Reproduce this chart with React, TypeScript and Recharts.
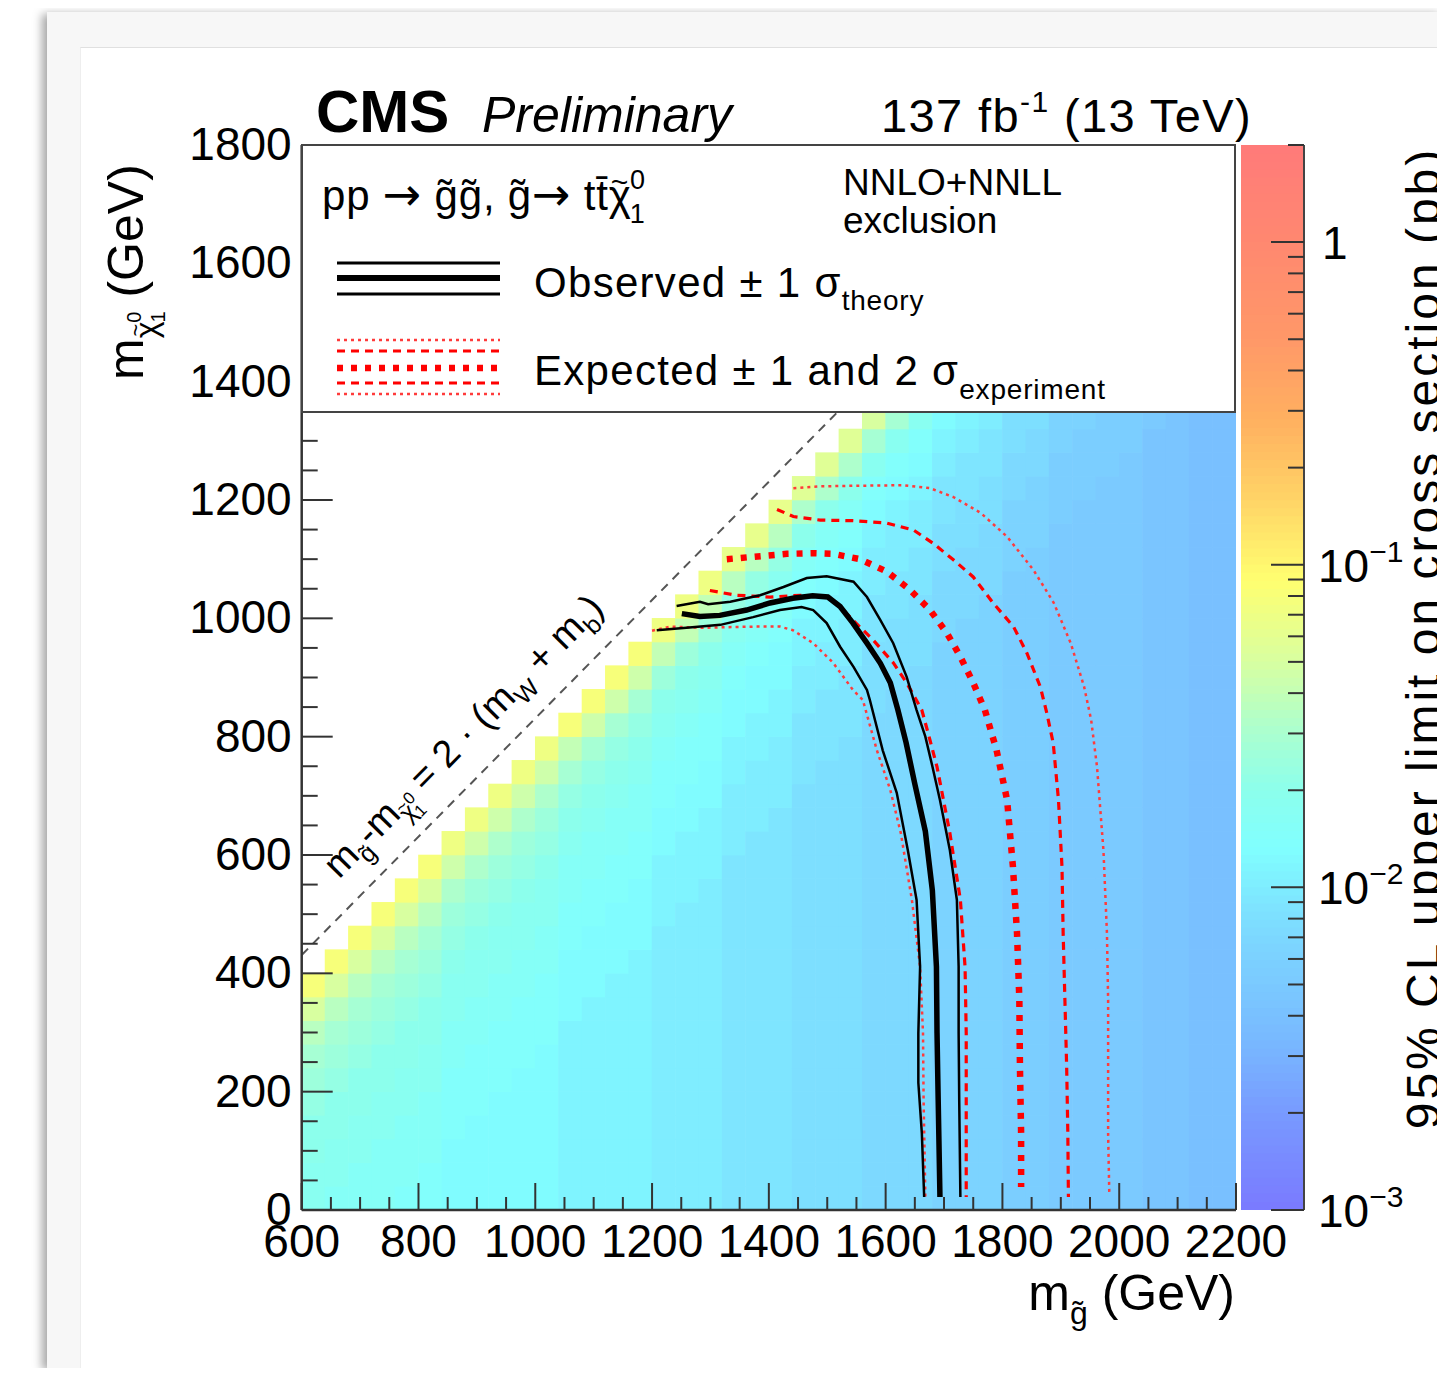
import React from 'react';
import { ComposedChart, Scatter, Line, XAxis, YAxis, ReferenceArea } from 'recharts';

const FONT = '"Liberation Sans", Arial, Helvetica, sans-serif';
const ARROW_FONT = '"DejaVu Sans", sans-serif';

// ---------------- axes / labels ----------------
const X_DOMAIN: [number, number] = [600, 2200];
const Y_DOMAIN: [number, number] = [0, 1800];
const X_MAJOR = [600, 800, 1000, 1200, 1400, 1600, 1800, 2000, 2200];
const Y_MAJOR = [0, 200, 400, 600, 800, 1000, 1200, 1400, 1600, 1800];
const MINOR_STEP = 50;
const CB_DOMAIN: [number, number] = [0.001, 2];
const CB_DECADES = [0.001, 0.01, 0.1, 1];
const CB_LABEL_EXP: Record<string, string> = { '0.001': '\u22123', '0.01': '\u22122', '0.1': '\u22121', '1': '' };

// ---------------- heat map (95% CL upper limit, pb) ----------------
// cells are 40 GeV x 40 GeV; row j covers m_chi in [40j, 40j+40]
// each character is a level: log10(sigma) = -2.6 + 0.05 * index
const BIN = 40;
const LEVELS = '0123456789abcdefghijklmnopqrstuvwxyz';
const LEVEL_LOG0 = -2.6;
const LEVEL_STEP = 0.05;
const HEAT_ROWS = [
  'hgggffeeeeeddddcccbbbaaa9998887766665544',
  'hhgggfeeeeeddddcccbbbaaa9998887766665544',
  'ihhgggeeeeeddddcccbbbaaa9998887766665544',
  'iihhggfeeeeddddcccbbbaaa9998887766665544',
  'jiihhgffeeeddddcccbbbaaa9998887766665544',
  'kjiihhfffeeddddcccbbbaaa9998887766665544',
  'lkjiihgfffeddddcccbbbaaa9998887766665544',
  'nlkjiiggfffddddcccbbbaaa9998887766665544',
  'qnlkjihggffedddcccbbbaaa9998887766665544',
  'uqnlkjhhggfeeddcccbbbaaa9998887766665544',
  'uqnlkihhggeeedcccbbbaaa9998887766665544',
  'uqnljihhgfeeecccbbbaaa9998887766665544',
  'uqnkjihhffeedccbbbaaa9998887766665544',
  'uqmkjihgffeddcbbbaaa9998887766665544',
  'upmkjiggffdddbbbaaa9998887766665544',
  'tpmkjhggfeddcbbaaa9998887766665544',
  'tpmkihggeedccbaaa9998887766665544',
  'tpmjihgfeecccaaa9998887766665544',
  'tpljihffedccbaa9998887766665544',
  'toljigffddcbba9998887766665544',
  'upljhgfeddbbb9998887766665544',
  'uplihgeedcbba998887766665544',
  'upkihfeeccbaa98887766665544',
  'uokigfedccaaa8887766665544',
  'tokhgfddcbaa9887766665544',
  'tojhgeddbba9987766665544',
  'tnjhfedcbb9997766665544',
  'snjgfeccba998766665544',
  'snigfdccaa98866665544',
  'smigedcbaa8876665544',
  'rmifedbba9877665544',
  'rmhfecbb9977765544',
  'rlhfdcba987775544',
  'qlhedcaa88776544',
];

// ---------------- exclusion contours (m_gluino, m_chi) ----------------
const OBS = [[1251,1008],[1282,1003],[1316,1005],[1362,1014],[1402,1026],[1441,1034],[1475,1038],[1501,1036],[1522,1020],[1544,992],[1568,958],[1591,924],[1608,891],[1621,845],[1635,790],[1650,720],[1668,640],[1680,540],[1687,411],[1688,299],[1690,186],[1693,22]];
const OBS_UP = [[1242,1021],[1282,1028],[1296,1024],[1334,1028],[1385,1039],[1425,1053],[1465,1068],[1499,1071],[1545,1062],[1568,1036],[1591,997],[1613,958],[1636,901],[1653,845],[1668,800],[1680,750],[1693,693],[1710,608],[1722,524],[1725,411],[1725,299],[1726,186],[1728,22]];
const OBS_DN = [[1208,980],[1259,984],[1317,989],[1373,1002],[1419,1014],[1456,1019],[1476,1014],[1499,992],[1522,952],[1545,918],[1568,879],[1573,862],[1595,777],[1619,705],[1638,608],[1653,524],[1659,411],[1656,299],[1656,215],[1662,130],[1666,22]];
const EXP = [[1328,1100],[1373,1104],[1431,1109],[1476,1110],[1510,1109],[1556,1100],[1602,1079],[1642,1048],[1676,1014],[1705,975],[1728,935],[1750,891],[1770,845],[1790,777],[1808,693],[1818,580],[1825,468],[1829,355],[1830,242],[1832,130],[1832,39]];
const EXP_UP = [[1414,1184],[1442,1172],[1488,1166],[1544,1165],[1602,1161],[1648,1149],[1681,1127],[1716,1099],[1750,1070],[1784,1026],[1819,986],[1842,941],[1865,884],[1876,840],[1887,789],[1896,693],[1902,580],[1904,468],[1907,355],[1910,242],[1912,130],[1913,22]];
const EXP_DN = [[1299,1047],[1345,1039],[1402,1036],[1454,1039],[1499,1036],[1522,1020],[1544,997],[1579,963],[1613,925],[1636,891],[1662,845],[1676,794],[1688,749],[1710,637],[1728,524],[1736,411],[1738,299],[1738,186],[1738,22]];
const EXP_UP2 = [[1442,1220],[1488,1223],[1544,1224],[1630,1225],[1676,1220],[1716,1205],[1763,1178],[1808,1138],[1853,1082],[1888,1026],[1917,958],[1940,884],[1952,828],[1962,749],[1973,608],[1979,468],[1981,355],[1981,242],[1981,130],[1983,29]];
const EXP_DN2 = [[1200,979],[1231,986],[1287,984],[1373,986],[1419,986],[1441,980],[1476,958],[1510,925],[1544,879],[1561,862],[1585,777],[1608,710],[1626,637],[1645,524],[1659,411],[1664,299],[1665,186],[1668,22]];
const DIAG = [[600, 431], [1518, 1349]];
const DIAG_LABEL_POS = [[892, 786]];

// ---------------- palette ----------------
const PALETTE_STOPS: [number, string][] = [
  [-3.0, '#7a7aff'], [-2.7, '#789aff'], [-2.5, '#78b6ff'], [-2.35, '#7ac5ff'],
  [-2.2, '#7cd3ff'], [-2.05, '#7ee5ff'], [-1.88, '#80ffff'], [-1.7, '#8cffec'],
  [-1.5, '#aeffcc'], [-1.3, '#d8ffa0'], [-1.05, '#ffff70'], [-0.8, '#ffd466'],
  [-0.55, '#ffb060'], [-0.3, '#ff9868'], [0.0, '#ff8870'], [0.31, '#ff7a7a'],
];

// ---------------- layout ----------------
const W = 1436;
const H = 1360;
const PLOT = { left: 293.7, top: 137, right: 1228, bottom: 1202 };
const Y_AXIS_W = 100;
const X_AXIS_H = 60;
const CB_AXIS_W = 60;
const PW = PLOT.right - PLOT.left;
const PH = PLOT.bottom - PLOT.top;
const CW = (PW * BIN) / (X_DOMAIN[1] - X_DOMAIN[0]);
const CH = (PH * BIN) / (Y_DOMAIN[1] - Y_DOMAIN[0]);
const DIAG_ANGLE = (-Math.atan((PH / 1800) / (PW / 1600)) * 180) / Math.PI;

const hexToRgb = (h: string) => [parseInt(h.slice(1, 3), 16), parseInt(h.slice(3, 5), 16), parseInt(h.slice(5, 7), 16)];
const colorForLog = (l: number) => {
  const s = PALETTE_STOPS;
  if (l <= s[0][0]) return s[0][1];
  if (l >= s[s.length - 1][0]) return s[s.length - 1][1];
  for (let i = 0; i < s.length - 1; i++) {
    if (l >= s[i][0] && l <= s[i + 1][0]) {
      const t = (l - s[i][0]) / (s[i + 1][0] - s[i][0]);
      const a = hexToRgb(s[i][1]);
      const b = hexToRgb(s[i + 1][1]);
      const c = a.map((v, k) => Math.round(v + (b[k] - v) * t));
      return `rgb(${c[0]},${c[1]},${c[2]})`;
    }
  }
  return s[0][1];
};

const toPts = (arr: number[][]) => arr.map(([x, y]) => ({ x, y }));

const HEAT_CELLS = HEAT_ROWS.flatMap((row, j) => {
  const first = Math.max(0, j - 9);
  return row.split('').map((ch, c) => ({
    x: X_DOMAIN[0] + (first + c) * BIN + BIN / 2,
    y: j * BIN + BIN / 2,
    fill: colorForLog(LEVEL_LOG0 + LEVEL_STEP * LEVELS.indexOf(ch)),
  }));
});

const rangeTicks = (a: number, b: number, step: number) => {
  const out: number[] = [];
  for (let v = a; v <= b + 1e-9; v += step) out.push(v);
  return out;
};
const X_TICKS = rangeTicks(X_DOMAIN[0], X_DOMAIN[1], MINOR_STEP);
const Y_TICKS = rangeTicks(Y_DOMAIN[0], Y_DOMAIN[1], MINOR_STEP);
const CB_TICKS: number[] = [];
CB_DECADES.forEach((d) => {
  for (let m = 1; m <= 9; m++) {
    const v = +(d * m).toPrecision(3);
    if (v <= CB_DOMAIN[1]) CB_TICKS.push(v);
  }
});
const CB_BANDS: { lo: number; hi: number; fill: string }[] = [];
for (let l = Math.log10(CB_DOMAIN[0]); l < Math.log10(CB_DOMAIN[1]) - 1e-9; l += 0.025) {
  const hi = Math.min(l + 0.03, Math.log10(CB_DOMAIN[1]));
  CB_BANDS.push({ lo: Math.pow(10, l), hi: Math.pow(10, hi), fill: colorForLog(l + 0.0125) });
}

// ---------------- custom renderers ----------------
const XTick = (props: any) => {
  const { x, y, payload } = props;
  const v = payload.value;
  const major = X_MAJOR.includes(v);
  return (
    <g>
      <line x1={x} y1={y} x2={x} y2={y - (major ? 27 : 13)} stroke="#333" strokeWidth={2} />
      {major && (
        <text x={x} y={y + 47} textAnchor="middle" fontSize={46} fontFamily={FONT} fill="#000">{v}</text>
      )}
    </g>
  );
};

const YTick = (props: any) => {
  const { x, y, payload } = props;
  const v = payload.value;
  const major = Y_MAJOR.includes(v);
  return (
    <g>
      <line x1={x} y1={y} x2={x + (major ? 31 : 16)} y2={y} stroke="#333" strokeWidth={2} />
      {major && (
        <text x={x - 10} y={y + 15} textAnchor="end" fontSize={46} fontFamily={FONT} fill="#000">{v}</text>
      )}
    </g>
  );
};

const CbTick = (props: any) => {
  const { x, y, payload } = props;
  const v = payload.value;
  const key = String(v);
  const major = key in CB_LABEL_EXP;
  return (
    <g>
      <line x1={x} y1={y} x2={x - (major ? 33 : 16)} y2={y} stroke="#333" strokeWidth={2} />
      {major && (
        CB_LABEL_EXP[key] === '' ? (
          <text x={x + 18} y={y + 17} fontSize={46} fontFamily={FONT} fill="#000">1</text>
        ) : (
          <text x={x + 14} y={y + 17} fontSize={46} fontFamily={FONT} fill="#000">
            10<tspan dy={-20} fontSize={30}>{CB_LABEL_EXP[key]}</tspan>
          </text>
        )
      )}
    </g>
  );
};

const HeatCell = (props: any) => {
  const { cx, cy, payload } = props;
  if (cx == null || cy == null) return null;
  return <rect x={cx - CW / 2 - 0.3} y={cy - CH / 2 - 0.3} width={CW + 0.6} height={CH + 0.6} fill={payload.fill} />;
};

const DiagLabel = (props: any) => {
  const { cx, cy } = props;
  if (cx == null || cy == null) return null;
  return (
    <text x={cx} y={cy} transform={`rotate(${DIAG_ANGLE} ${cx} ${cy})`} textAnchor="middle" fontSize={38} fontFamily={FONT} fill="#000">
      <tspan>m</tspan>
      <tspan dy={10} fontSize={25}>g&#771;</tspan>
      <tspan dy={-10} fontSize={38}>-m</tspan>
      <tspan dy={10} fontSize={25}>&#967;</tspan>
      <tspan dx={-12} dy={-11} fontSize={18}>~</tspan>
      <tspan dx={1} dy={-1} fontSize={17}>0</tspan>
      <tspan dx={-10} dy={17} fontSize={17}>1</tspan>
      <tspan dy={-15} fontSize={38}> = 2 · (m</tspan>
      <tspan dy={10} fontSize={25}>W</tspan>
      <tspan dy={-10} fontSize={38}> + m</tspan>
      <tspan dy={10} fontSize={25}>b</tspan>
      <tspan dy={-10} fontSize={38}>)</tspan>
    </text>
  );
};

const noShape = () => null;

const RED = '#ff0000';
const RED_LIGHT = '#ff3b3b';

// ---------------- component ----------------
export default function App() {
  return (
    <div style={{ position: 'relative', width: W, height: H, overflow: 'hidden', background: '#fff' }}>
      <div style={{ position: 'absolute', left: 39, top: 4, width: W - 39, height: H - 4, background: '#f7f7f7', boxShadow: '-5px 2px 9px rgba(0,0,0,0.35)' }} />
      <div style={{ position: 'absolute', left: 72, top: 39, width: W - 72, height: H - 39, background: '#fff', borderTop: '1px solid #e0e0e0', borderLeft: '1px solid #eeeeee' }} />

      <div style={{ position: 'absolute', left: 0, top: 0 }}>
        <ComposedChart width={W} height={H} margin={{ top: PLOT.top, right: W - PLOT.right, bottom: H - PLOT.bottom - X_AXIS_H, left: PLOT.left - Y_AXIS_W }}>
          <XAxis type="number" dataKey="x" domain={X_DOMAIN} ticks={X_TICKS} interval={0} tick={XTick} tickLine={false} tickSize={0} tickMargin={0} height={X_AXIS_H} axisLine={{ stroke: '#333', strokeWidth: 2.5 }} allowDataOverflow />
          <YAxis type="number" dataKey="y" domain={Y_DOMAIN} ticks={Y_TICKS} interval={0} tick={YTick} tickLine={false} tickSize={0} tickMargin={0} width={Y_AXIS_W} axisLine={{ stroke: '#333', strokeWidth: 2.5 }} allowDataOverflow />
          <Scatter data={HEAT_CELLS} shape={HeatCell} isAnimationActive={false} zIndex={10} />
          <Line data={toPts(DIAG)} dataKey="y" type="linear" stroke="#555" strokeWidth={2} strokeDasharray="9 7" dot={false} isAnimationActive={false} />
          <Line data={toPts(EXP_UP2)} dataKey="y" type="linear" stroke={RED_LIGHT} strokeWidth={2.5} strokeDasharray="3 4" dot={false} isAnimationActive={false} />
          <Line data={toPts(EXP_DN2)} dataKey="y" type="linear" stroke={RED_LIGHT} strokeWidth={2.5} strokeDasharray="3 4" dot={false} isAnimationActive={false} />
          <Line data={toPts(EXP_UP)} dataKey="y" type="linear" stroke={RED} strokeWidth={3.2} strokeDasharray="8 6" dot={false} isAnimationActive={false} />
          <Line data={toPts(EXP_DN)} dataKey="y" type="linear" stroke={RED} strokeWidth={3.2} strokeDasharray="8 6" dot={false} isAnimationActive={false} />
          <Line data={toPts(EXP)} dataKey="y" type="linear" stroke={RED} strokeWidth={6.5} strokeDasharray="6 8" dot={false} isAnimationActive={false} />
          <Line data={toPts(OBS_UP)} dataKey="y" type="linear" stroke="#000" strokeWidth={2.5} dot={false} isAnimationActive={false} />
          <Line data={toPts(OBS_DN)} dataKey="y" type="linear" stroke="#000" strokeWidth={2.5} dot={false} isAnimationActive={false} />
          <Line data={toPts(OBS)} dataKey="y" type="linear" stroke="#000" strokeWidth={5.5} dot={false} isAnimationActive={false} />
          <Scatter data={toPts(DIAG_LABEL_POS)} shape={DiagLabel} isAnimationActive={false} />
        </ComposedChart>
      </div>

      <div style={{ position: 'absolute', left: 1233, top: 0 }}>
        <ComposedChart width={200} height={H} margin={{ top: PLOT.top, right: 137 - CB_AXIS_W, bottom: H - PLOT.bottom, left: 0 }}>
          <XAxis type="number" dataKey="x" domain={[0, 1]} hide />
          <YAxis type="number" dataKey="y" scale="log" domain={CB_DOMAIN} orientation="right" ticks={CB_TICKS} interval={0} tick={CbTick} tickLine={false} tickSize={0} tickMargin={0} width={CB_AXIS_W} axisLine={{ stroke: '#444', strokeWidth: 2 }} allowDataOverflow />
          {CB_BANDS.map((b, i) => (
            <ReferenceArea key={i} x1={0} x2={1} y1={b.lo} y2={b.hi} fill={b.fill} fillOpacity={1} stroke="none" ifOverflow="visible" />
          ))}
          <Scatter data={[{ x: 0.5, y: 0.01 }]} shape={noShape} isAnimationActive={false} />
        </ComposedChart>
      </div>

      <svg width={W} height={H} style={{ position: 'absolute', left: 0, top: 0, pointerEvents: 'none' }} fontFamily={FONT}>
        {/* top labels */}
        <text x={308} y={124} fontSize={60} fontWeight="bold">CMS</text>
        <text x={474} y={124} fontSize={50} fontStyle="italic">Preliminary</text>
        <text x={1244} y={124} fontSize={47} letterSpacing={1.4} textAnchor="end">
          137 fb<tspan dy={-20} fontSize={30}>-1</tspan><tspan dy={20} fontSize={47}> (13 TeV)</tspan>
        </text>

        {/* legend */}
        <rect x={294} y={137} width={933} height={267} fill="#fff" stroke="#444" strokeWidth={2} />
        <text x={314} y={202} fontSize={42} letterSpacing={0.8}>
          pp <tspan fontFamily={ARROW_FONT} fontSize={46}>→</tspan> g&#771;g&#771;, g&#771;<tspan fontFamily={ARROW_FONT} fontSize={46}>→</tspan> tt&#772;&#967;<tspan dx={-21} dy={-18} fontSize={30}>~</tspan><tspan dx={1} dy={-3} fontSize={27}>0</tspan><tspan dx={-16} dy={34} fontSize={27}>1</tspan>
        </text>
        <text x={835} y={187} fontSize={37}>NNLO+NNLL</text>
        <text x={835} y={225} fontSize={37}>exclusion</text>

        <line x1={329} x2={492} y1={255} y2={255} stroke="#000" strokeWidth={3} />
        <line x1={329} x2={492} y1={270} y2={270} stroke="#000" strokeWidth={6} />
        <line x1={329} x2={492} y1={286} y2={286} stroke="#000" strokeWidth={3} />
        <text x={526} y={289} fontSize={42} letterSpacing={1.3}>
          Observed ± 1 σ<tspan dy={13} fontSize={28} letterSpacing={0.8}>theory</tspan>
        </text>

        <line x1={329} x2={492} y1={332} y2={332} stroke={RED_LIGHT} strokeWidth={2.5} strokeDasharray="3 4" />
        <line x1={329} x2={492} y1={343} y2={343} stroke={RED} strokeWidth={3.2} strokeDasharray="8 6" />
        <line x1={329} x2={492} y1={360} y2={360} stroke={RED} strokeWidth={6.5} strokeDasharray="6 8" />
        <line x1={329} x2={492} y1={375} y2={375} stroke={RED} strokeWidth={3.2} strokeDasharray="8 6" />
        <line x1={329} x2={492} y1={386} y2={386} stroke={RED_LIGHT} strokeWidth={2.5} strokeDasharray="3 4" />
        <text x={526} y={377} fontSize={42} letterSpacing={1.3}>
          Expected ± 1 and 2 σ<tspan dy={14} fontSize={28} letterSpacing={0.8}>experiment</tspan>
        </text>

        {/* axis titles */}
        <text x={1227} y={1302} fontSize={50} textAnchor="end">
          m<tspan dy={14} fontSize={32}>g&#771;</tspan><tspan dy={-14} fontSize={50}> (GeV)</tspan>
        </text>
        <text x={135} y={372} fontSize={50} transform="rotate(-90 135 372)">
          m<tspan dy={14} fontSize={32}>&#967;</tspan><tspan dx={-15} dy={-14} fontSize={22}>~</tspan><tspan dx={1} dy={-2} fontSize={20}>0</tspan><tspan dx={-11} dy={24} fontSize={20}>1</tspan><tspan dy={-22} fontSize={50}> (GeV)</tspan>
        </text>
        <text x={1432} y={630} fontSize={48} letterSpacing={3} textAnchor="middle" transform="rotate(-90 1432 630)">
          95% CL upper limit on cross section (pb)
        </text>
      </svg>
    </div>
  );
}
